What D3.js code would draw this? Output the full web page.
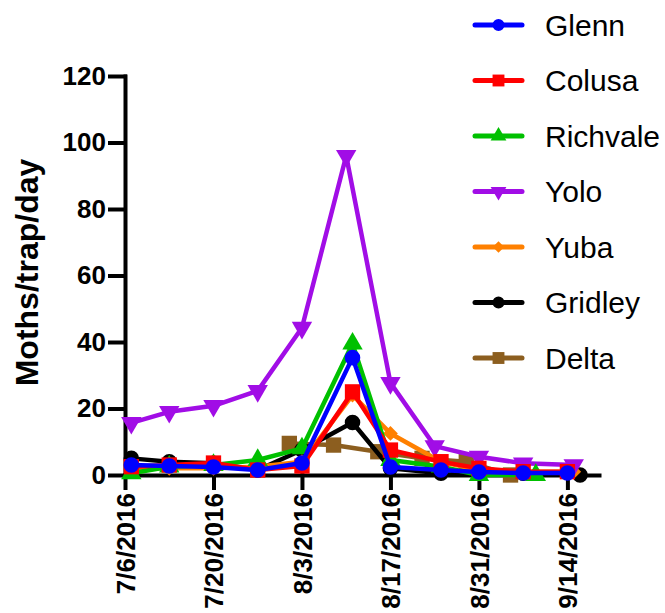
<!DOCTYPE html>
<html>
<head>
<meta charset="utf-8">
<script src="https://cdn.jsdelivr.net/npm/d3@7"></script>
<style>
  body { margin: 0; background: #fff; }
  svg { display: block; font-family: "Liberation Sans", Arial, sans-serif; }
  .axis path, .axis line { stroke: #000; stroke-width: 4; stroke-linecap: square; }
  .axis text { font-size: 26px; font-weight: bold; fill: #000; }
  .axis-title { font-size: 32px; font-weight: bold; }
  .legend-label { font-size: 30px; }
</style>
</head>
<body>
<svg id="chart" width="665" height="613"></svg>
<script>
const width = 665;
const height = 613;

const margin = { top: 76, left: 125, bottom: 138, right: 66 };

/* DATA */
const seriesNames = ["Glenn", "Colusa", "Richvale", "Yolo", "Yuba", "Gridley", "Delta"];

const weeklyDates   = ["2016-07-07", "2016-07-13", "2016-07-20", "2016-07-27", "2016-08-03", "2016-08-11", "2016-08-17", "2016-08-25", "2016-08-31", "2016-09-07", "2016-09-14"];
const yubaDates     = ["2016-07-07", "2016-07-13", "2016-07-20", "2016-07-27", "2016-08-03", "2016-08-11", "2016-08-17", "2016-08-25", "2016-08-31", "2016-09-07", "2016-09-15"];
const gridleyDates  = ["2016-07-07", "2016-07-13", "2016-07-20", "2016-07-27", "2016-08-03", "2016-08-11", "2016-08-17", "2016-08-25", "2016-08-31", "2016-09-07", "2016-09-16"];
const richvaleDates = ["2016-07-07", "2016-07-13", "2016-07-20", "2016-07-27", "2016-08-03", "2016-08-11", "2016-08-17", "2016-08-25", "2016-08-31", "2016-09-09"];
const yoloDates     = ["2016-07-07", "2016-07-13", "2016-07-20", "2016-07-27", "2016-08-03", "2016-08-10", "2016-08-17", "2016-08-24", "2016-08-31", "2016-09-07", "2016-09-15"];
const deltaDates    = ["2016-08-01", "2016-08-08", "2016-08-15", "2016-08-22", "2016-08-29", "2016-09-05"];

const glennValues    = [3, 2.7, 2.4, 1.5, 3.6, 35.3, 2.4, 1.5, 0.9, 0.6, 0.6];
const colusaValues   = [2.5, 3, 3.6, 1.5, 2.7, 25, 7.5, 4, 2, 1, 1];
const richvaleValues = [0.5, 2.5, 3, 4.5, 8, 39.5, 4.5, 2.5, 0, 0];
const yoloValues     = [15.7, 19, 20.8, 25.3, 44.3, 96, 27.7, 8.7, 5.5, 3.5, 3];
const yubaValues     = [2, 2, 2, 2.5, 4, 24, 12.5, 4, 1.5, 1, 1];
const gridleyValues  = [5, 4, 3.5, 1.5, 7.5, 15.8, 2, 0.5, 0.5, 0.5, 0];
const deltaValues    = [9.5, 9, 7, 5, 4, 0];

const xTickDates = ["2016-07-06", "2016-07-20", "2016-08-03", "2016-08-17", "2016-08-31", "2016-09-14"];
const yTickValues = [0, 20, 40, 60, 80, 100, 120];

const seriesDates  = [weeklyDates, weeklyDates, richvaleDates, yoloDates, yubaDates, gridleyDates, deltaDates];
const seriesValues = [glennValues, colusaValues, richvaleValues, yoloValues, yubaValues, gridleyValues, deltaValues];

/* STYLE */
const seriesColors = ["#0000ff", "#ff0000", "#00c000", "#a10de6", "#ff8000", "#000000", "#8c5e1f"];
const seriesShapes = ["circle", "square", "triangleUp", "triangleDown", "diamond", "circle", "square"];

const parseDate = d3.timeParse("%Y-%m-%d");

const series = seriesNames.map((name, i) => ({
  name: name,
  color: seriesColors[i],
  shape: seriesShapes[i],
  points: seriesDates[i].map((d, j) => ({ date: parseDate(d), value: seriesValues[i][j] }))
}));

/* PLOT */
const svg = d3.select("svg#chart");
const plot = svg.append("g").attr("transform", translate(margin.left, margin.top));

const plotWidth = width - margin.left - margin.right;
const plotHeight = height - margin.top - margin.bottom;

const scales = {
  x: d3.scaleTime().domain([parseDate("2016-07-06"), parseDate("2016-09-19")]).range([0, plotWidth]),
  y: d3.scaleLinear().domain([0, 120]).range([plotHeight, 0])
};

drawAxes();
drawTitle();
drawSeries();
drawLegend();


function drawAxes() {
  const yAxis = d3.axisLeft(scales.y)
    .tickValues(yTickValues)
    .tickSize(15)
    .tickPadding(4)
    .tickSizeOuter(0);

  plot.append("g").attr("class", "axis").call(yAxis);

  const xAxis = d3.axisBottom(scales.x)
    .tickValues(xTickDates.map(parseDate))
    .tickFormat(d3.timeFormat("%-m/%-d/%Y"))
    .tickSize(13)
    .tickSizeOuter(0);

  const xGroup = plot.append("g")
    .attr("class", "axis")
    .attr("transform", translate(0, plotHeight))
    .call(xAxis);

  xGroup.selectAll("text")
    .attr("transform", "rotate(-90)")
    .attr("x", -18)
    .attr("y", 0)
    .attr("dy", "0.35em")
    .attr("text-anchor", "end");

  svg.selectAll(".axis .domain").attr("fill", "none");
}


function drawTitle() {
  const yMiddle = margin.top + plotHeight / 2 - 3;
  svg.append("text")
    .attr("class", "axis-title")
    .attr("transform", translate(38, yMiddle) + " rotate(-90)")
    .attr("text-anchor", "middle")
    .text("Moths/trap/day");
}


function symbolPath(shape, size) {
  const types = {
    circle: d3.symbolCircle,
    square: d3.symbolSquare,
    triangleUp: d3.symbolTriangle,
    triangleDown: d3.symbolTriangle,
    diamond: d3.symbolSquare
  };
  return d3.symbol().type(types[shape]).size(size)();
}

function symbolRotation(shape) {
  if (shape === "triangleDown") return " rotate(180)";
  if (shape === "diamond") return " rotate(45)";
  return "";
}

function markerSize(shape) {
  if (shape === "circle") return 190;
  if (shape === "square") return 235;
  if (shape === "diamond") return 110;
  return 180;
}


function drawSeries() {
  const line = d3.line()
    .x(d => scales.x(d.date))
    .y(d => scales.y(d.value));

  // draw in reverse legend order so Glenn ends up on top
  const ordered = series.slice().reverse();

  const groups = plot.append("g").attr("id", "series")
    .selectAll("g")
    .data(ordered)
    .enter()
    .append("g");

  groups.append("path")
    .attr("d", d => line(d.points))
    .attr("fill", "none")
    .attr("stroke", d => d.color)
    .attr("stroke-width", 4.5)
    .attr("stroke-linejoin", "round");

  groups.each(function(s) {
    d3.select(this).selectAll("path.marker")
      .data(s.points)
      .enter()
      .append("path")
      .attr("class", "marker")
      .attr("d", symbolPath(s.shape, markerSize(s.shape)))
      .attr("transform", d => translate(scales.x(d.date), scales.y(d.value)) + symbolRotation(s.shape))
      .attr("fill", s.color);
  });
}


function drawLegend() {
  const legend = svg.append("g").attr("id", "legend");

  const rows = legend.selectAll("g")
    .data(series)
    .enter()
    .append("g")
    .attr("transform", (d, i) => translate(475, 25 + i * 55.5));

  rows.append("line")
    .attr("x1", 0)
    .attr("x2", 47)
    .attr("stroke", d => d.color)
    .attr("stroke-width", 5)
    .attr("stroke-linecap", "round");

  rows.append("path")
    .attr("d", d => symbolPath(d.shape, markerSize(d.shape) * 0.6))
    .attr("transform", d => translate(23.5, 0) + symbolRotation(d.shape))
    .attr("fill", d => d.color);

  rows.append("text")
    .attr("class", "legend-label")
    .attr("x", 70)
    .attr("dy", "0.35em")
    .text(d => d.name);
}


function translate(x, y) {
  return "translate(" + String(x) + "," + String(y) + ")";
}
</script>
</body>
</html>
